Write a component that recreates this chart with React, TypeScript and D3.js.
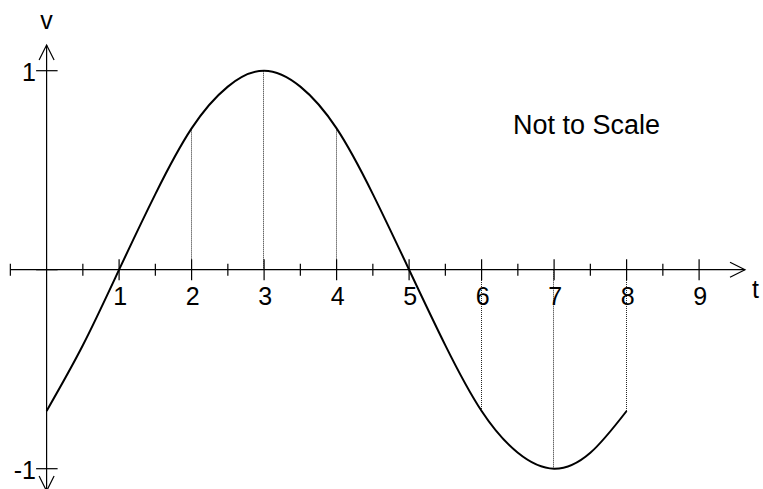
import React from "react";
import * as d3 from "d3";

const curveT = [0, 0.5, 1, 1.5, 2, 2.5, 3, 3.5, 4, 4.5, 5, 5.5, 6, 6.5, 7, 7.5, 8];
const curveV = [-0.71, -0.38, 0, 0.38, 0.71, 0.92, 1, 0.92, 0.71, 0.38, 0, -0.38, -0.71, -0.92, -1, -0.92, -0.71];
const dropT = [2, 3, 4, 6, 7, 8];
const majorTicks = [1, 2, 3, 4, 5, 6, 7, 8, 9];
const minorTicks = [-0.5, 0.5, 1.5, 2.5, 3.5, 4.5, 5.5, 6.5, 7.5, 8.5];
const yTicks = [-1, 0, 1];
const yTickLabels = ["-1", "", "1"];
const noteText = "Not to Scale";
const xAxisLabel = "t";
const yAxisLabel = "v";

const W = 763;
const H = 489;
const FONT = "'Liberation Sans', Arial, sans-serif";

export default function App() {
  const x = d3.scaleLinear().domain([0, 9]).range([46.6, 699.1]);
  const y = d3.scaleLinear().domain([-1, 1]).range([468.7, 70.7]);
  const y0 = y(0);
  const x0 = x(0);
  const pts: [number, number][] = curveT.map((t, i) => [t, curveV[i]]);
  const line = d3
    .line<[number, number]>()
    .x((d) => x(d[0]))
    .y((d) => y(d[1]))
    .curve(d3.curveNatural);
  const valAt = (t: number) => curveV[curveT.indexOf(t)];
  const xEnd = 745;
  const yTop = 45;
  const yBot = 491;
  return (
    <svg
      width={W}
      height={H}
      style={{ position: "absolute", left: 0, top: 0, background: "#fff" }}
      fontFamily={FONT}
    >
      <rect x={0} y={0} width={W} height={H} fill="#fff" />
      {/* dotted drop lines */}
      {dropT.map((t) => (
        <line
          key={"d" + t}
          x1={Math.round(x(t)) - 0.5}
          x2={Math.round(x(t)) - 0.5}
          y1={y(valAt(t))}
          y2={y0}
          stroke="#222"
          strokeWidth={1}
          strokeDasharray="1 1"
        />
      ))}
      {/* x axis */}
      <line x1={x(-0.5)} x2={xEnd} y1={y0} y2={y0} stroke="#000" strokeWidth={1.2} />
      <polyline
        points={`${xEnd - 15},${y0 - 7.5} ${xEnd},${y0} ${xEnd - 15},${y0 + 7.5}`}
        fill="none"
        stroke="#000"
        strokeWidth={1.2}
      />
      {majorTicks.map((t) => (
        <line key={"M" + t} x1={x(t)} x2={x(t)} y1={y0 - 10.5} y2={y0 + 10.5} stroke="#000" strokeWidth={1.2} />
      ))}
      {minorTicks.map((t) => (
        <line key={"m" + t} x1={x(t)} x2={x(t)} y1={y0 - 6} y2={y0 + 6} stroke="#000" strokeWidth={1.2} />
      ))}
      {majorTicks.map((t) => (
        <text key={"l" + t} x={x(t) + 1} y={305} fontSize={25} textAnchor="middle" fill="#000">
          {String(t)}
        </text>
      ))}
      <text x={752} y={298} fontSize={25} fill="#000">
        {xAxisLabel}
      </text>
      {/* y axis */}
      <line x1={x0} x2={x0} y1={yTop} y2={yBot} stroke="#000" strokeWidth={1.2} />
      <polyline
        points={`${x0 - 7.5},${yTop + 15} ${x0},${yTop} ${x0 + 7.5},${yTop + 15}`}
        fill="none"
        stroke="#000"
        strokeWidth={1.2}
      />
      <polyline
        points={`${x0 - 7.5},${yBot - 15} ${x0},${yBot} ${x0 + 7.5},${yBot - 15}`}
        fill="none"
        stroke="#000"
        strokeWidth={1.2}
      />
      {yTicks.map((v) => (
        <line key={"y" + v} x1={x0 - 10.5} x2={x0 + 11} y1={y(v)} y2={y(v)} stroke="#000" strokeWidth={1.2} />
      ))}
      {yTicks.map((v, i) =>
        yTickLabels[i] ? (
          <text key={"yl" + v} x={36} y={y(v) + 10} fontSize={25} textAnchor="end" fill="#000">
            {yTickLabels[i]}
          </text>
        ) : null
      )}
      <text x={x0} y={29} fontSize={25} textAnchor="middle" fill="#000">
        {yAxisLabel}
      </text>
      {/* curve */}
      <path d={line(pts) || ""} fill="none" stroke="#000" strokeWidth={2} />
      <text x={513} y={134} fontSize={27} fill="#000">
        {noteText}
      </text>
    </svg>
  );
}
